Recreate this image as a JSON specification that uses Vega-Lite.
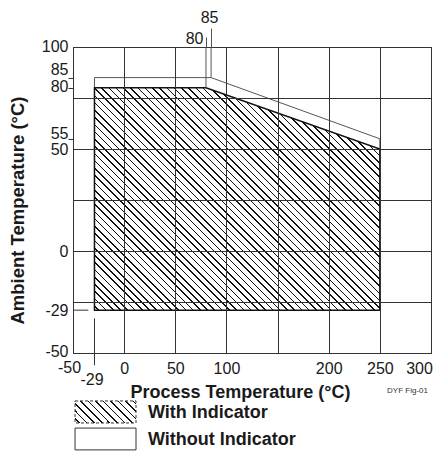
{
  "$schema": "https://vega.github.io/schema/vega-lite/v6.json",
  "width": 358,
  "height": 306,
  "autosize": {"type": "none"},
  "padding": {"left": 73, "top": 47, "right": 8, "bottom": 102},
  "config": {
    "view": {"stroke": "#333", "strokeWidth": 1},
    "font": "Liberation Sans"
  },
  "data": {
    "values": [
      {"series": "Without Indicator", "pt": -29, "lo": -29, "hi": 85},
      {"series": "Without Indicator", "pt": 85, "lo": -29, "hi": 85},
      {"series": "Without Indicator", "pt": 250, "lo": -29, "hi": 55},
      {"series": "With Indicator", "pt": -29, "lo": -29, "hi": 80},
      {"series": "With Indicator", "pt": 80, "lo": -29, "hi": 80},
      {"series": "With Indicator", "pt": 250, "lo": -29, "hi": 50}
    ]
  },
  "resolve": {"axis": {"x": "independent", "y": "independent"}},
  "layer": [
    {
      "transform": [{"filter": "datum.series === 'Without Indicator'"}],
      "mark": {"type": "area", "fill": "#ffffff", "stroke": "#555555", "strokeWidth": 1},
      "encoding": {
        "x": {
          "field": "pt", "type": "quantitative",
          "scale": {"domain": [-50, 300], "nice": false, "zero": false},
          "axis": {
            "orient": "bottom",
            "values": [-50, -29, 0, 50, 100, 150, 200, 250, 300],
            "labelExpr": "datum.value === 150 ? '' : '' + datum.value",
            "grid": true, "gridColor": "#333333", "gridWidth": 1,
            "gridOpacity": {"condition": {"test": "datum.value === -29", "value": 0}, "value": 1},
            "ticks": false,
            "domain": true, "domainColor": "#333333", "domainWidth": 1,
            "labelFont": "Liberation Sans", "labelFontSize": 16, "labelColor": "#1a1a1a",
            "labelPadding": {"condition": [{"test": "datum.value === -29", "value": 18}, {"test": "datum.value === -50", "value": 6}], "value": 7},
            "labelOffset": {"condition": [{"test": "datum.value === -29", "value": -3}, {"test": "datum.value === -50", "value": -4}, {"test": "datum.value === 300", "value": -12}], "value": 0},
            "labelOverlap": false, "labelFlush": false, "labelBound": false,
            "title": "Process Temperature (°C)",
            "titleFont": "Liberation Sans", "titleFontSize": 18, "titleFontWeight": "bold", "titleColor": "#1a1a1a",
            "titleX": 167, "titleY": 44, "titleBaseline": "alphabetic", "titleAlign": "center",
            "zindex": 1
          }
        },
        "y": {
          "field": "hi", "type": "quantitative",
          "scale": {"domain": [-50, 100], "nice": false, "zero": false},
          "axis": {
            "orient": "left",
            "values": [100, 85, 80, 75, 55, 50, 25, 0, -25, -29, -50],
            "labelExpr": "indexof([75, 25, -25], datum.value) >= 0 ? '' : '' + datum.value",
            "grid": true, "gridColor": "#333333", "gridWidth": 1,
            "gridOpacity": {"condition": {"test": "indexof([85, 80, 55, -29], datum.value) >= 0", "value": 0}, "value": 1},
            "ticks": true, "tickSize": 5, "tickColor": "#333333", "tickWidth": 1,
            "tickOpacity": {"condition": {"test": "indexof([85, 80, 55], datum.value) >= 0", "value": 1}, "value": 0},
            "domain": true, "domainColor": "#333333", "domainWidth": 1,
            "labelPadding": 0,
            "labelOffset": {"condition": [{"test": "datum.value === 85", "value": -8}, {"test": "datum.value === 80", "value": -1}, {"test": "datum.value === 55", "value": -5}, {"test": "datum.value === -50", "value": -2}, {"test": "datum.value === 100", "value": -1}], "value": 0},
            "labelFont": "Liberation Sans", "labelFontSize": 16, "labelColor": "#1a1a1a",
            "labelOverlap": false, "labelFlush": false, "labelBound": false,
            "title": "Ambient Temperature (°C)",
            "titleFont": "Liberation Sans", "titleFontSize": 18.5, "titleFontWeight": "bold", "titleColor": "#1a1a1a",
            "titleX": -50, "titleY": 163, "titleBaseline": "alphabetic", "titleAlign": "center",
            "zindex": 1
          }
        },
        "y2": {"field": "lo"}
      }
    },
    {
      "transform": [{"filter": "datum.series === 'With Indicator'"}],
      "mark": {
        "type": "area", "stroke": "#111111", "strokeWidth": 1.5,
        "fill": {
          "gradient": "linear", "x1": 0, "y1": 1, "x2": 1.1071, "y2": 0.1374,
          "stops": [
{"offset":0.0071,"color":"#fff"},{"offset":0.0071,"color":"#111"},{"offset":0.0103,"color":"#111"},{"offset":0.0103,"color":"#fff"},
{"offset":0.0214,"color":"#fff"},{"offset":0.0214,"color":"#111"},{"offset":0.0246,"color":"#111"},{"offset":0.0246,"color":"#fff"},
{"offset":0.0357,"color":"#fff"},{"offset":0.0357,"color":"#111"},{"offset":0.0389,"color":"#111"},{"offset":0.0389,"color":"#fff"},
{"offset":0.05,"color":"#fff"},{"offset":0.05,"color":"#111"},{"offset":0.0532,"color":"#111"},{"offset":0.0532,"color":"#fff"},
{"offset":0.0643,"color":"#fff"},{"offset":0.0643,"color":"#111"},{"offset":0.0675,"color":"#111"},{"offset":0.0675,"color":"#fff"},
{"offset":0.0786,"color":"#fff"},{"offset":0.0786,"color":"#111"},{"offset":0.0818,"color":"#111"},{"offset":0.0818,"color":"#fff"},
{"offset":0.0929,"color":"#fff"},{"offset":0.0929,"color":"#111"},{"offset":0.0961,"color":"#111"},{"offset":0.0961,"color":"#fff"},
{"offset":0.1071,"color":"#fff"},{"offset":0.1071,"color":"#111"},{"offset":0.1103,"color":"#111"},{"offset":0.1103,"color":"#fff"},
{"offset":0.1214,"color":"#fff"},{"offset":0.1214,"color":"#111"},{"offset":0.1246,"color":"#111"},{"offset":0.1246,"color":"#fff"},
{"offset":0.1357,"color":"#fff"},{"offset":0.1357,"color":"#111"},{"offset":0.1389,"color":"#111"},{"offset":0.1389,"color":"#fff"},
{"offset":0.15,"color":"#fff"},{"offset":0.15,"color":"#111"},{"offset":0.1532,"color":"#111"},{"offset":0.1532,"color":"#fff"},
{"offset":0.1643,"color":"#fff"},{"offset":0.1643,"color":"#111"},{"offset":0.1675,"color":"#111"},{"offset":0.1675,"color":"#fff"},
{"offset":0.1786,"color":"#fff"},{"offset":0.1786,"color":"#111"},{"offset":0.1818,"color":"#111"},{"offset":0.1818,"color":"#fff"},
{"offset":0.1929,"color":"#fff"},{"offset":0.1929,"color":"#111"},{"offset":0.1961,"color":"#111"},{"offset":0.1961,"color":"#fff"},
{"offset":0.2071,"color":"#fff"},{"offset":0.2071,"color":"#111"},{"offset":0.2103,"color":"#111"},{"offset":0.2103,"color":"#fff"},
{"offset":0.2214,"color":"#fff"},{"offset":0.2214,"color":"#111"},{"offset":0.2246,"color":"#111"},{"offset":0.2246,"color":"#fff"},
{"offset":0.2357,"color":"#fff"},{"offset":0.2357,"color":"#111"},{"offset":0.2389,"color":"#111"},{"offset":0.2389,"color":"#fff"},
{"offset":0.25,"color":"#fff"},{"offset":0.25,"color":"#111"},{"offset":0.2532,"color":"#111"},{"offset":0.2532,"color":"#fff"},
{"offset":0.2643,"color":"#fff"},{"offset":0.2643,"color":"#111"},{"offset":0.2675,"color":"#111"},{"offset":0.2675,"color":"#fff"},
{"offset":0.2786,"color":"#fff"},{"offset":0.2786,"color":"#111"},{"offset":0.2818,"color":"#111"},{"offset":0.2818,"color":"#fff"},
{"offset":0.2929,"color":"#fff"},{"offset":0.2929,"color":"#111"},{"offset":0.2961,"color":"#111"},{"offset":0.2961,"color":"#fff"},
{"offset":0.3071,"color":"#fff"},{"offset":0.3071,"color":"#111"},{"offset":0.3103,"color":"#111"},{"offset":0.3103,"color":"#fff"},
{"offset":0.3214,"color":"#fff"},{"offset":0.3214,"color":"#111"},{"offset":0.3246,"color":"#111"},{"offset":0.3246,"color":"#fff"},
{"offset":0.3357,"color":"#fff"},{"offset":0.3357,"color":"#111"},{"offset":0.3389,"color":"#111"},{"offset":0.3389,"color":"#fff"},
{"offset":0.35,"color":"#fff"},{"offset":0.35,"color":"#111"},{"offset":0.3532,"color":"#111"},{"offset":0.3532,"color":"#fff"},
{"offset":0.3643,"color":"#fff"},{"offset":0.3643,"color":"#111"},{"offset":0.3675,"color":"#111"},{"offset":0.3675,"color":"#fff"},
{"offset":0.3786,"color":"#fff"},{"offset":0.3786,"color":"#111"},{"offset":0.3818,"color":"#111"},{"offset":0.3818,"color":"#fff"},
{"offset":0.3929,"color":"#fff"},{"offset":0.3929,"color":"#111"},{"offset":0.3961,"color":"#111"},{"offset":0.3961,"color":"#fff"},
{"offset":0.4071,"color":"#fff"},{"offset":0.4071,"color":"#111"},{"offset":0.4103,"color":"#111"},{"offset":0.4103,"color":"#fff"},
{"offset":0.4214,"color":"#fff"},{"offset":0.4214,"color":"#111"},{"offset":0.4246,"color":"#111"},{"offset":0.4246,"color":"#fff"},
{"offset":0.4357,"color":"#fff"},{"offset":0.4357,"color":"#111"},{"offset":0.4389,"color":"#111"},{"offset":0.4389,"color":"#fff"},
{"offset":0.45,"color":"#fff"},{"offset":0.45,"color":"#111"},{"offset":0.4532,"color":"#111"},{"offset":0.4532,"color":"#fff"},
{"offset":0.4643,"color":"#fff"},{"offset":0.4643,"color":"#111"},{"offset":0.4675,"color":"#111"},{"offset":0.4675,"color":"#fff"},
{"offset":0.4786,"color":"#fff"},{"offset":0.4786,"color":"#111"},{"offset":0.4818,"color":"#111"},{"offset":0.4818,"color":"#fff"},
{"offset":0.4929,"color":"#fff"},{"offset":0.4929,"color":"#111"},{"offset":0.4961,"color":"#111"},{"offset":0.4961,"color":"#fff"},
{"offset":0.5071,"color":"#fff"},{"offset":0.5071,"color":"#111"},{"offset":0.5103,"color":"#111"},{"offset":0.5103,"color":"#fff"},
{"offset":0.5214,"color":"#fff"},{"offset":0.5214,"color":"#111"},{"offset":0.5246,"color":"#111"},{"offset":0.5246,"color":"#fff"},
{"offset":0.5357,"color":"#fff"},{"offset":0.5357,"color":"#111"},{"offset":0.5389,"color":"#111"},{"offset":0.5389,"color":"#fff"},
{"offset":0.55,"color":"#fff"},{"offset":0.55,"color":"#111"},{"offset":0.5532,"color":"#111"},{"offset":0.5532,"color":"#fff"},
{"offset":0.5643,"color":"#fff"},{"offset":0.5643,"color":"#111"},{"offset":0.5675,"color":"#111"},{"offset":0.5675,"color":"#fff"},
{"offset":0.5786,"color":"#fff"},{"offset":0.5786,"color":"#111"},{"offset":0.5818,"color":"#111"},{"offset":0.5818,"color":"#fff"},
{"offset":0.5929,"color":"#fff"},{"offset":0.5929,"color":"#111"},{"offset":0.5961,"color":"#111"},{"offset":0.5961,"color":"#fff"},
{"offset":0.6071,"color":"#fff"},{"offset":0.6071,"color":"#111"},{"offset":0.6103,"color":"#111"},{"offset":0.6103,"color":"#fff"},
{"offset":0.6214,"color":"#fff"},{"offset":0.6214,"color":"#111"},{"offset":0.6246,"color":"#111"},{"offset":0.6246,"color":"#fff"},
{"offset":0.6357,"color":"#fff"},{"offset":0.6357,"color":"#111"},{"offset":0.6389,"color":"#111"},{"offset":0.6389,"color":"#fff"},
{"offset":0.65,"color":"#fff"},{"offset":0.65,"color":"#111"},{"offset":0.6532,"color":"#111"},{"offset":0.6532,"color":"#fff"},
{"offset":0.6643,"color":"#fff"},{"offset":0.6643,"color":"#111"},{"offset":0.6675,"color":"#111"},{"offset":0.6675,"color":"#fff"},
{"offset":0.6786,"color":"#fff"},{"offset":0.6786,"color":"#111"},{"offset":0.6818,"color":"#111"},{"offset":0.6818,"color":"#fff"},
{"offset":0.6929,"color":"#fff"},{"offset":0.6929,"color":"#111"},{"offset":0.6961,"color":"#111"},{"offset":0.6961,"color":"#fff"},
{"offset":0.7071,"color":"#fff"},{"offset":0.7071,"color":"#111"},{"offset":0.7103,"color":"#111"},{"offset":0.7103,"color":"#fff"},
{"offset":0.7214,"color":"#fff"},{"offset":0.7214,"color":"#111"},{"offset":0.7246,"color":"#111"},{"offset":0.7246,"color":"#fff"},
{"offset":0.7357,"color":"#fff"},{"offset":0.7357,"color":"#111"},{"offset":0.7389,"color":"#111"},{"offset":0.7389,"color":"#fff"},
{"offset":0.75,"color":"#fff"},{"offset":0.75,"color":"#111"},{"offset":0.7532,"color":"#111"},{"offset":0.7532,"color":"#fff"},
{"offset":0.7643,"color":"#fff"},{"offset":0.7643,"color":"#111"},{"offset":0.7675,"color":"#111"},{"offset":0.7675,"color":"#fff"},
{"offset":0.7786,"color":"#fff"},{"offset":0.7786,"color":"#111"},{"offset":0.7818,"color":"#111"},{"offset":0.7818,"color":"#fff"},
{"offset":0.7929,"color":"#fff"},{"offset":0.7929,"color":"#111"},{"offset":0.7961,"color":"#111"},{"offset":0.7961,"color":"#fff"},
{"offset":0.8071,"color":"#fff"},{"offset":0.8071,"color":"#111"},{"offset":0.8103,"color":"#111"},{"offset":0.8103,"color":"#fff"},
{"offset":0.8214,"color":"#fff"},{"offset":0.8214,"color":"#111"},{"offset":0.8246,"color":"#111"},{"offset":0.8246,"color":"#fff"},
{"offset":0.8357,"color":"#fff"},{"offset":0.8357,"color":"#111"},{"offset":0.8389,"color":"#111"},{"offset":0.8389,"color":"#fff"},
{"offset":0.85,"color":"#fff"},{"offset":0.85,"color":"#111"},{"offset":0.8532,"color":"#111"},{"offset":0.8532,"color":"#fff"},
{"offset":0.8643,"color":"#fff"},{"offset":0.8643,"color":"#111"},{"offset":0.8675,"color":"#111"},{"offset":0.8675,"color":"#fff"},
{"offset":0.8786,"color":"#fff"},{"offset":0.8786,"color":"#111"},{"offset":0.8818,"color":"#111"},{"offset":0.8818,"color":"#fff"},
{"offset":0.8929,"color":"#fff"},{"offset":0.8929,"color":"#111"},{"offset":0.8961,"color":"#111"},{"offset":0.8961,"color":"#fff"},
{"offset":0.9071,"color":"#fff"},{"offset":0.9071,"color":"#111"},{"offset":0.9103,"color":"#111"},{"offset":0.9103,"color":"#fff"},
{"offset":0.9214,"color":"#fff"},{"offset":0.9214,"color":"#111"},{"offset":0.9246,"color":"#111"},{"offset":0.9246,"color":"#fff"},
{"offset":0.9357,"color":"#fff"},{"offset":0.9357,"color":"#111"},{"offset":0.9389,"color":"#111"},{"offset":0.9389,"color":"#fff"},
{"offset":0.95,"color":"#fff"},{"offset":0.95,"color":"#111"},{"offset":0.9532,"color":"#111"},{"offset":0.9532,"color":"#fff"},
{"offset":0.9643,"color":"#fff"},{"offset":0.9643,"color":"#111"},{"offset":0.9675,"color":"#111"},{"offset":0.9675,"color":"#fff"},
{"offset":0.9786,"color":"#fff"},{"offset":0.9786,"color":"#111"},{"offset":0.9818,"color":"#111"},{"offset":0.9818,"color":"#fff"},
{"offset":0.9929,"color":"#fff"},{"offset":0.9929,"color":"#111"},{"offset":0.9961,"color":"#111"},{"offset":0.9961,"color":"#fff"}
          ]
        }
      },
      "encoding": {
        "x": {"field": "pt", "type": "quantitative", "axis": null},
        "y": {"field": "hi", "type": "quantitative", "axis": null},
        "y2": {"field": "lo"}
      }
    },
    {
      "data": {"values": [{"corner": 80}, {"corner": 85}]},
      "mark": {"type": "rule", "color": "#555555", "strokeWidth": 1},
      "encoding": {
        "x": {
          "field": "corner", "type": "quantitative",
          "axis": {
            "orient": "top", "values": [80, 85],
            "labelExpr": "'' + datum.value",
            "grid": false, "domain": false,
            "ticks": true, "tickColor": "#555555", "tickWidth": 1,
            "tickSize": {"condition": {"test": "datum.value === 80", "value": 10}, "value": 19},
            "labelPadding": {"condition": {"test": "datum.value === 80", "value": -9}, "value": 3},
            "labelAlign": {"condition": {"test": "datum.value === 80", "value": "right"}, "value": "center"},
            "labelOffset": {"condition": {"test": "datum.value === 80", "value": -3}, "value": -2},
            "labelFont": "Liberation Sans", "labelFontSize": 16, "labelColor": "#1a1a1a",
            "labelOverlap": false, "labelFlush": false, "labelBound": false,
            "title": null,
            "zindex": 1
          }
        },
        "y": {"field": "corner", "type": "quantitative", "axis": null},
        "y2": {"datum": 100}
      }
    },
    {
      "data": {"values": [{}]},
      "mark": {"type": "rule", "color": "#333333", "strokeWidth": 1},
      "encoding": {
        "x": {"datum": -50, "type": "quantitative", "axis": null},
        "x2": {"datum": -35},
        "y": {"datum": -29, "type": "quantitative", "axis": null}
      }
    },
    {
      "data": {"values": [{}]},
      "mark": {"type": "rule", "color": "#333333", "strokeWidth": 1},
      "encoding": {
        "x": {"datum": -29, "type": "quantitative", "axis": null},
        "y": {"datum": -33, "type": "quantitative", "axis": null},
        "y2": {"datum": -56}
      }
    },
    {
      "data": {"values": [{"label": "With Indicator"}]},
      "mark": {
        "type": "rect", "stroke": "#333333", "strokeWidth": 1, "strokeDash": [3, 2],
        "fill": {
          "gradient": "linear", "x1": 0, "y1": 1, "x2": 1.204, "y2": 0.5666,
          "stops": [
{"offset":0.0455,"color":"#fff"},{"offset":0.0455,"color":"#111"},{"offset":0.0645,"color":"#111"},{"offset":0.0645,"color":"#fff"},
{"offset":0.1364,"color":"#fff"},{"offset":0.1364,"color":"#111"},{"offset":0.1554,"color":"#111"},{"offset":0.1554,"color":"#fff"},
{"offset":0.2273,"color":"#fff"},{"offset":0.2273,"color":"#111"},{"offset":0.2463,"color":"#111"},{"offset":0.2463,"color":"#fff"},
{"offset":0.3182,"color":"#fff"},{"offset":0.3182,"color":"#111"},{"offset":0.3372,"color":"#111"},{"offset":0.3372,"color":"#fff"},
{"offset":0.4091,"color":"#fff"},{"offset":0.4091,"color":"#111"},{"offset":0.4281,"color":"#111"},{"offset":0.4281,"color":"#fff"},
{"offset":0.5,"color":"#fff"},{"offset":0.5,"color":"#111"},{"offset":0.519,"color":"#111"},{"offset":0.519,"color":"#fff"},
{"offset":0.5909,"color":"#fff"},{"offset":0.5909,"color":"#111"},{"offset":0.6099,"color":"#111"},{"offset":0.6099,"color":"#fff"},
{"offset":0.6818,"color":"#fff"},{"offset":0.6818,"color":"#111"},{"offset":0.7008,"color":"#111"},{"offset":0.7008,"color":"#fff"},
{"offset":0.7727,"color":"#fff"},{"offset":0.7727,"color":"#111"},{"offset":0.7917,"color":"#111"},{"offset":0.7917,"color":"#fff"},
{"offset":0.8636,"color":"#fff"},{"offset":0.8636,"color":"#111"},{"offset":0.8826,"color":"#111"},{"offset":0.8826,"color":"#fff"},
{"offset":0.9545,"color":"#fff"},{"offset":0.9545,"color":"#111"},{"offset":0.9735,"color":"#111"},{"offset":0.9735,"color":"#fff"}
          ]
        }
      },
      "encoding": {
        "x": {"datum": -48, "type": "quantitative", "axis": null},
        "x2": {"datum": 11.6},
        "y": {"datum": -73.5, "type": "quantitative", "axis": null},
        "y2": {"datum": -84.3}
      }
    },
    {
      "data": {"values": [{"label": "Without Indicator"}]},
      "mark": {"type": "rect", "fill": "#ffffff", "stroke": "#333333", "strokeWidth": 1},
      "encoding": {
        "x": {"datum": -48, "type": "quantitative", "axis": null},
        "x2": {"datum": 11.6},
        "y": {"datum": -86.8, "type": "quantitative", "axis": null},
        "y2": {"datum": -97.5}
      }
    },
    {
      "data": {"values": [{"label": "With Indicator"}]},
      "mark": {"type": "text", "align": "left", "baseline": "middle", "fontSize": 18, "fontWeight": "bold", "font": "Liberation Sans", "color": "#1a1a1a"},
      "encoding": {
        "x": {"datum": 23.3, "type": "quantitative", "axis": null},
        "y": {"datum": -79.5, "type": "quantitative", "axis": null},
        "text": {"field": "label"}
      }
    },
    {
      "data": {"values": [{"label": "Without Indicator"}]},
      "mark": {"type": "text", "align": "left", "baseline": "middle", "fontSize": 18, "fontWeight": "bold", "font": "Liberation Sans", "color": "#1a1a1a"},
      "encoding": {
        "x": {"datum": 23.3, "type": "quantitative", "axis": null},
        "y": {"datum": -92.5, "type": "quantitative", "axis": null},
        "text": {"field": "label"}
      }
    },
    {
      "data": {"values": [{"note": "DYF Fig-01"}]},
      "mark": {"type": "text", "align": "right", "baseline": "alphabetic", "dx": -3, "dy": 40, "fontSize": 8, "font": "Liberation Sans", "color": "#333333"},
      "encoding": {
        "x": {"datum": 300, "type": "quantitative", "axis": null},
        "y": {"datum": -50, "type": "quantitative", "axis": null},
        "text": {"field": "note"}
      }
    }
  ]
}
